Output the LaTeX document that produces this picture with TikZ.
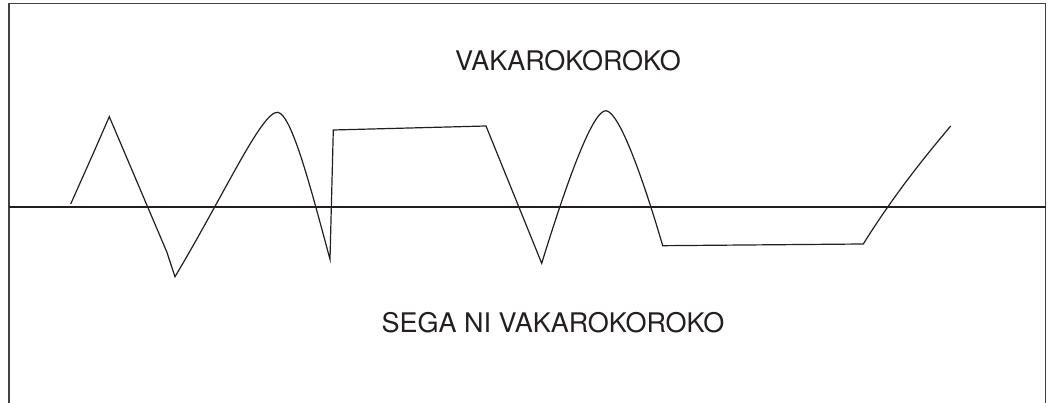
\documentclass[tikz,border=0pt]{standalone}
\usepackage{fontspec}
\setmainfont{TeX Gyre Heros}
\definecolor{ink}{HTML}{231F20}
\begin{document}
\begin{tikzpicture}[x=1pt,y=1pt,
  frame/.style={draw=ink!85,line width=1.8pt},
  axis/.style={draw=ink,line width=2.8pt},
  wave/.style={draw=ink,line width=1.2pt,line join=miter},
  label/.style={font=\fontsize{27}{31}\selectfont,text=ink,inner sep=0pt}]
\useasboundingbox (0,0) rectangle (1048,403);
% frame (open at bottom)
\draw[frame] (9,0) -- (9,399.5) -- (1045.5,399.5) -- (1045.5,0);
% axis
\draw[axis] (9,196) -- (1045.5,196);
% waveform
\draw[wave] (70.7,199) -- (93.3,249.7) -- (109.3,286.3) -- (166.7,151.3) -- (175,126.3)
  .. controls (225,210) and (262,292) .. (277.7,290.7)
  .. controls (292,289) and (312,210) .. (330,143.7)
  -- (333.3,273) -- (486,277) -- (541.7,139.7)
  .. controls (568,225) and (593,293) .. (606,292.3)
  .. controls (619,291) and (642,228) .. (662.7,157.3)
  -- (863.3,159)
  .. controls (895,210) and (928,250) .. (950.7,277);
% labels
\node[label] (top) at (568,342) {VAKAROKOROKO};
\node[label] (bottom) at (553,80.5) {SEGA NI VAKAROKOROKO};
\end{tikzpicture}
\end{document}
